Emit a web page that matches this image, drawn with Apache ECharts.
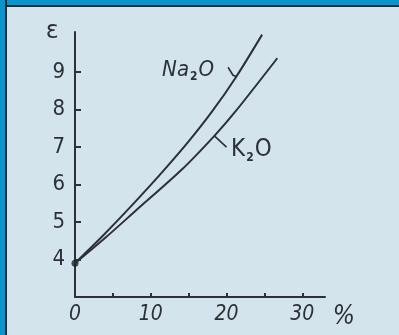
<!DOCTYPE html>
<html>
<head>
<meta charset="utf-8">
<script src="https://cdn.jsdelivr.net/npm/echarts@6/dist/echarts.min.js"></script>
<style>
  html, body { margin: 0; padding: 0; }
  #wrap { position: relative; width: 399px; height: 335px; background: #d4e4ed; overflow: hidden; }
  #topband { position: absolute; left: 0; top: 0; width: 399px; height: 5px; background: #0b93cb; border-bottom: 2px solid #1f2a31; }
  #leftband { position: absolute; left: 0; top: 0; width: 5px; height: 335px; background: #0b93cb; border-right: 2px solid #1f2a31; }
  #c { position: absolute; left: 0; top: 0; width: 399px; height: 335px; }
</style>
</head>
<body>
<div id="wrap">
  <div id="c"></div>
  <div id="topband"></div>
  <div id="leftband"></div>
</div>
<script>
// Permittivity ε of glass vs. alkali oxide content (%)
const naX = [0, 4, 8, 11.6, 15, 18.1, 21.2, 24.7];
const naY = [3.9, 4.7, 5.55, 6.35, 7.15, 7.95, 8.85, 10.0];
const kX  = [0, 4, 8, 14.1, 18.4, 21.1, 26.7];
const kY  = [3.9, 4.58, 5.3, 6.4, 7.3, 7.93, 9.37];

const yTicks = [4, 5, 6, 7, 8, 9];
const xLabels = [0, 10, 20, 30];
const xTicks = [5, 10, 15, 20, 25, 30];

const ink = '#2b3136';
const hand = "'Liberation Sans Narrow', 'DejaVu Sans Condensed', sans-serif";

function pairs(xs, ys) { return xs.map((x, i) => [x, ys[i]]); }

const chart = echarts.init(document.getElementById('c'), null, { renderer: 'canvas' });

chart.setOption({
  animation: false,
  backgroundColor: 'transparent',
  grid: { left: 75, right: 74, top: 32, bottom: 38 },
  xAxis: {
    type: 'value', min: 0, max: 33, interval: 5,
    axisLine: { show: true, lineStyle: { color: ink, width: 2 } },
    splitLine: { show: false },
    axisTick: { show: true, inside: true, length: 4, customValues: xTicks, lineStyle: { color: ink, width: 2 } },
    axisLabel: {
      customValues: xLabels, margin: 7, color: ink,
      fontFamily: hand, fontSize: 21, fontStyle: 'italic'
    }
  },
  yAxis: {
    type: 'value', min: 3, max: 10.07, interval: 1,
    axisLine: { show: true, lineStyle: { color: ink, width: 2 } },
    splitLine: { show: false },
    axisTick: { show: true, inside: true, length: 6, customValues: yTicks, lineStyle: { color: ink, width: 2 } },
    axisLabel: {
      customValues: yTicks, margin: 10, color: ink,
      fontFamily: hand, fontSize: 22
    }
  },
  series: [
    {
      name: 'Na2O', type: 'line', data: pairs(naX, naY), smooth: 0.3,
      symbol: 'none', lineStyle: { color: ink, width: 2 }
    },
    {
      name: 'K2O', type: 'line', data: pairs(kX, kY), smooth: 0.3,
      symbol: 'none', lineStyle: { color: ink, width: 2 }
    },
    {
      type: 'scatter', data: [[0, 3.9]], symbolSize: 7,
      itemStyle: { color: '#1e2328' }
    }
  ]
});

function px(p) { return chart.convertToPixel({ gridIndex: 0 }, p); }

const naLabel = px([11.5, 9.05]);
const kLabel = px([20.6, 6.92]);
const naHookA = px([20.2, 9.13]);
const naHookB = px([21.3, 8.88]);
const kLeadA = px([18.4, 7.3]);
const kLeadB = px([20.0, 7.0]);
const epsPos = px([-3.0, 10.08]);
const pctPos = px([35.5, 2.45]);

chart.setOption({
  graphic: [
    {
      type: 'text', x: naLabel[0], y: naLabel[1],
      style: {
        text: '{a|Na}{b|2}{a|O}',
        verticalAlign: 'middle', align: 'left',
        rich: {
          a: { fontFamily: hand, fontSize: 22, fontStyle: 'italic', fill: ink, lineHeight: 26 },
          b: { fontFamily: hand, fontSize: 12, fontWeight: 'bold', fill: ink, verticalAlign: 'bottom', lineHeight: 26, padding: [9, 1, 0, 1] }
        }
      }
    },
    {
      type: 'text', x: kLabel[0], y: kLabel[1],
      style: {
        text: '{a|K}{b|2}{a|O}',
        verticalAlign: 'middle', align: 'left',
        rich: {
          a: { fontFamily: hand, fontSize: 24, fill: ink, lineHeight: 28 },
          b: { fontFamily: hand, fontSize: 12, fontWeight: 'bold', fill: ink, verticalAlign: 'bottom', lineHeight: 28, padding: [9, 1, 0, 1] }
        }
      }
    },
    {
      type: 'polyline',
      shape: { points: [naHookA, [naHookA[0] + 5, naHookA[1] + 8], naHookB] },
      style: { stroke: ink, lineWidth: 1.6, fill: null }
    },
    {
      type: 'line',
      shape: { x1: kLeadA[0], y1: kLeadA[1], x2: kLeadB[0], y2: kLeadB[1] },
      style: { stroke: ink, lineWidth: 1.6 }
    },
    {
      type: 'text', x: epsPos[0], y: epsPos[1],
      style: { text: 'ε', fontFamily: "'DejaVu Sans', sans-serif", fontSize: 24, fill: ink, align: 'center', verticalAlign: 'middle' }
    },
    {
      type: 'text', x: pctPos[0], y: pctPos[1],
      style: { text: '%', fontFamily: hand, fontSize: 26, fontStyle: 'italic', fill: ink, align: 'center', verticalAlign: 'middle' }
    }
  ]
});
</script>
</body>
</html>
